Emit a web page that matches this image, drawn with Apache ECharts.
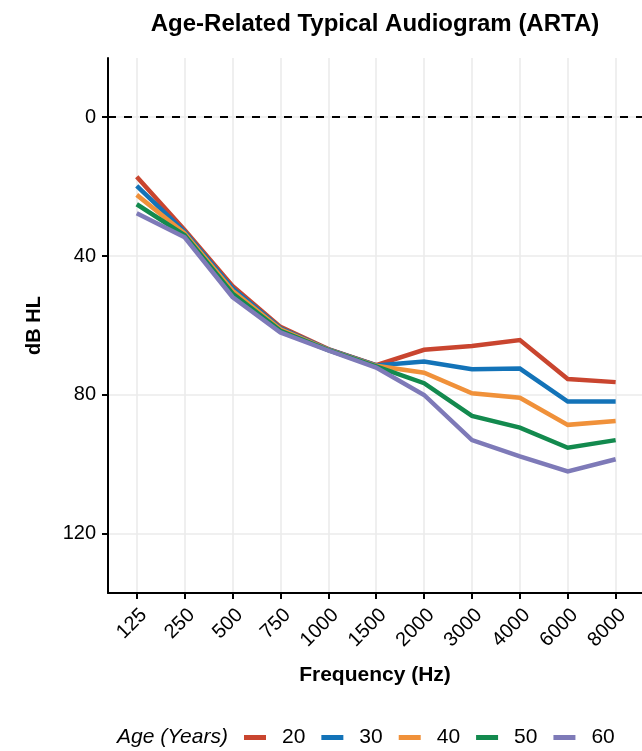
<!DOCTYPE html>
<html>
<head>
<meta charset="utf-8">
<script src="https://cdn.jsdelivr.net/npm/echarts@6/dist/echarts.min.js"></script>
<style>html,body{margin:0;padding:0;background:#fff;}#c{width:642px;height:751px;}</style>
</head>
<body>
<div id="c"></div>
<script>
const frequencies = ['125','250','500','750','1000','1500','2000','3000','4000','6000','8000'];
const ages = ['20','30','40','50','60'];
const age20 = [17.2, 32.5, 48.6, 60.4, 66.8, 71.4, 67.0, 65.9, 64.2, 75.4, 76.3];
const age30 = [19.8, 33.0, 49.3, 60.8, 66.9, 71.5, 70.4, 72.6, 72.4, 81.9, 81.9];
const age40 = [22.4, 33.5, 50.0, 61.1, 67.0, 71.6, 73.6, 79.5, 80.8, 88.6, 87.5];
const age50 = [25.1, 34.0, 50.8, 61.5, 67.1, 71.8, 76.6, 86.0, 89.4, 95.2, 93.0];
const age60 = [27.7, 34.6, 51.8, 62.0, 67.2, 72.1, 80.0, 93.0, 97.7, 102.0, 98.5];
const yTicks = [0, 40, 80, 120];
const colors = ['#C9452F', '#1373B8', '#F0913A', '#138A4E', '#7E7AB8'];

const seriesValues = [age20, age30, age40, age50, age60];
const FONT = '"Liberation Sans", Arial, Helvetica, sans-serif';
const idx = frequencies.map((f, i) => i);

const chart = echarts.init(document.getElementById('c'), null, {renderer: 'canvas'});
const series = ages.map((a, k) => ({
  name: a,
  type: 'line',
  data: seriesValues[k].map((v, i) => [i, v]),
  symbol: 'none',
  lineStyle: {width: 4.5, color: colors[k], cap: 'butt', join: 'miter'},
  itemStyle: {color: colors[k]},
  z: 3 + k,
  silent: true
}));
series[0].markLine = {
  silent: true,
  symbol: 'none',
  label: {show: false},
  lineStyle: {color: '#000', type: [8, 8], width: 2},
  data: [{yAxis: 0}],
  animation: false
};

chart.setOption({
  animation: false,
  backgroundColor: '#fff',
  title: {
    text: 'Age-Related Typical Audiogram (ARTA)',
    left: 370, top: 7, textAlign: 'center',
    textStyle: {fontFamily: FONT, fontSize: 24, fontWeight: 'bold', color: '#000'}
  },
  grid: {left: 108, right: 0, top: 58, bottom: 158, containLabel: false},
  xAxis: {
    type: 'value',
    min: -0.6, max: 10.55,
    name: 'Frequency (Hz)', nameLocation: 'middle', nameGap: 72,
    nameTextStyle: {fontFamily: FONT, fontSize: 21, fontWeight: 'bold', color: '#000'},
    axisLine: {show: true, onZero: false, lineStyle: {color: '#000', width: 2}},
    axisTick: {show: true, length: 6, lineStyle: {color: '#000', width: 2}, customValues: idx},
    axisLabel: {
      customValues: idx, rotate: 45, margin: 12, verticalAlign: 'top',
      fontFamily: FONT, fontSize: 20, color: '#000',
      formatter: v => frequencies[Math.round(v)]
    },
    splitLine: {show: true, lineStyle: {color: '#EBEBEB', width: 1.6}}
  },
  yAxis: {
    type: 'value', inverse: true,
    min: -17, max: 137,
    name: 'dB HL', nameLocation: 'middle', nameGap: 64, nameRotate: 90,
    nameTextStyle: {fontFamily: FONT, fontSize: 20, fontWeight: 'bold', color: '#000'},
    axisLine: {show: true, onZero: false, lineStyle: {color: '#000', width: 2}},
    axisTick: {show: true, length: 6, lineStyle: {color: '#000', width: 2}, customValues: yTicks},
    axisLabel: {customValues: yTicks, margin: 12, fontFamily: FONT, fontSize: 20, color: '#000'},
    splitLine: {show: true, lineStyle: {color: '#EBEBEB', width: 1.6}}
  },
  legend: {
    data: ages,
    left: 239, top: 722,
    itemWidth: 22, itemHeight: 5, itemGap: 16,
    icon: 'rect',
    textStyle: {fontFamily: FONT, fontSize: 21, color: '#000', padding: [0, 0, 0, 11]},
    selectedMode: false
  },
  graphic: [{
    type: 'text', left: 117, top: 727,
    style: {text: 'Age (Years)', fontFamily: FONT, fontSize: 21, fontStyle: 'italic', fill: '#000'}
  }],
  series: series
});
</script>
</body>
</html>
